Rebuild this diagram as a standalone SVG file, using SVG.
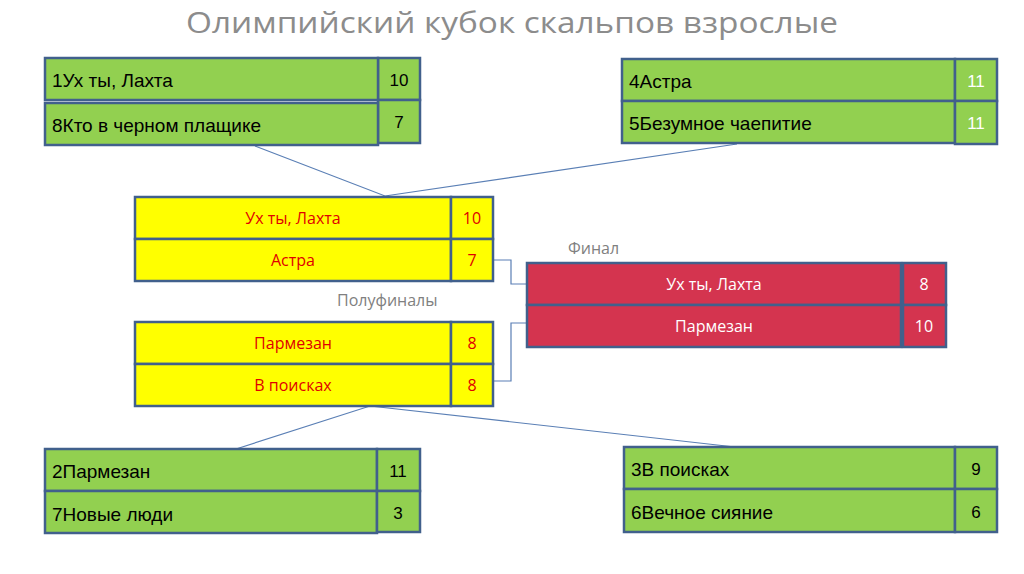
<svg xmlns="http://www.w3.org/2000/svg" width="1024" height="574" viewBox="0 0 1024 574">
<style>
.g{fill:#92D050;stroke:#41608C;stroke-width:2.5}
.y{fill:#FFFF00;stroke:#41608C;stroke-width:2.5}
.r{fill:#D4344F;stroke:#41608C;stroke-width:2.5}
.tl{font-family:"Liberation Sans",Arial,sans-serif;font-size:19px;fill:#000}
.tn{font-family:"Liberation Sans",Arial,sans-serif;font-size:17px;fill:#000;text-anchor:middle}
.tw{font-family:"Liberation Sans",Arial,sans-serif;font-size:17px;fill:#fff;text-anchor:middle}
.ty{font-family:"Open Sans","Liberation Sans",sans-serif;font-size:16px;fill:#E00000;text-anchor:middle}
.tf{font-family:"Open Sans","Liberation Sans",sans-serif;font-size:16px;fill:#fff;text-anchor:middle}
.lab{font-family:"Open Sans","Liberation Sans",sans-serif;font-size:16px;fill:#808080}
.c{fill:none;stroke:#5A7FB5;stroke-width:1.2}
</style>
<rect width="1024" height="574" fill="#fff"/>
<text x="512" y="33" text-anchor="middle" font-family="Open Sans, Liberation Sans, sans-serif" font-size="30" fill="#8C8C8C" textLength="652" lengthAdjust="spacingAndGlyphs">Олимпийский кубок скальпов взрослые</text>

<g id="connectors">
<polyline class="c" points="255,146 385,196 737,144"/>
<polyline class="c" points="236,449 370,406 735,447"/>
<polyline class="c" points="494,260 511,260 511,284 527,284"/>
<polyline class="c" points="494,381 511,381 511,323 527,323"/>
</g>

<g id="q1">
<rect class="g" x="378" y="58" width="42" height="42"/>
<rect class="g" x="378" y="100" width="42" height="43"/>
<rect class="g" x="45" y="58" width="333" height="42"/>
<rect class="g" x="45" y="103" width="333" height="42"/>
<text class="tl" x="52" y="87">1Ух ты, Лахта</text>
<text class="tl" x="52" y="132">8Кто в черном плащике</text>
<text class="tn" x="399" y="86">10</text>
<text class="tn" x="399" y="128">7</text>
</g>

<g id="q2">
<rect class="g" x="622" y="59" width="333" height="42"/>
<rect class="g" x="622" y="101" width="333" height="42"/>
<rect class="g" x="955" y="59" width="42" height="42"/>
<rect class="g" x="955" y="101" width="42" height="43"/>
<text class="tl" x="629" y="88">4Астра</text>
<text class="tl" x="629" y="130">5Безумное чаепитие</text>
<text class="tw" x="976" y="87">11</text>
<text class="tw" x="976" y="129">11</text>
</g>

<g id="q3">
<rect class="g" x="45" y="449" width="332" height="42"/>
<rect class="g" x="45" y="491" width="332" height="42"/>
<rect class="g" x="377" y="449" width="43" height="42"/>
<rect class="g" x="377" y="491" width="43" height="41"/>
<text class="tl" x="52" y="478">2Пармезан</text>
<text class="tl" x="52" y="521">7Новые люди</text>
<text class="tn" x="398" y="477">11</text>
<text class="tn" x="398" y="519">3</text>
</g>

<g id="q4">
<rect class="g" x="624" y="447" width="331" height="42"/>
<rect class="g" x="624" y="489" width="331" height="43"/>
<rect class="g" x="955" y="447" width="42" height="42"/>
<rect class="g" x="955" y="489" width="42" height="43"/>
<text class="tl" x="631" y="476">3В поисках</text>
<text class="tl" x="631" y="519">6Вечное сияние</text>
<text class="tn" x="976" y="475">9</text>
<text class="tn" x="976" y="518">6</text>
</g>

<g id="sf1">
<rect class="y" x="135" y="197" width="316" height="42"/>
<rect class="y" x="135" y="239" width="316" height="42"/>
<rect class="y" x="451" y="197" width="42" height="42"/>
<rect class="y" x="451" y="239" width="42" height="42"/>
<text class="ty" x="293" y="224">Ух ты, Лахта</text>
<text class="ty" x="293" y="266">Астра</text>
<text class="ty" x="472" y="224">10</text>
<text class="ty" x="472" y="266">7</text>
</g>

<text class="lab" x="337" y="306">Полуфиналы</text>

<g id="sf2">
<rect class="y" x="135" y="322" width="316" height="42"/>
<rect class="y" x="135" y="364" width="316" height="42"/>
<rect class="y" x="451" y="322" width="42" height="42"/>
<rect class="y" x="451" y="364" width="42" height="42"/>
<text class="ty" x="293" y="349">Пармезан</text>
<text class="ty" x="293" y="391">В поисках</text>
<text class="ty" x="472" y="349">8</text>
<text class="ty" x="472" y="391">8</text>
</g>

<text class="lab" x="568" y="254">Финал</text>

<g id="final">
<rect class="r" x="527" y="263" width="374" height="42"/>
<rect class="r" x="527" y="305" width="374" height="42"/>
<rect class="r" x="903" y="263" width="43" height="42"/>
<rect class="r" x="903" y="305" width="43" height="42"/>
<text class="tf" x="714" y="290">Ух ты, Лахта</text>
<text class="tf" x="714" y="332">Пармезан</text>
<text class="tf" x="924" y="290">8</text>
<text class="tf" x="924" y="332">10</text>
</g>
</svg>
